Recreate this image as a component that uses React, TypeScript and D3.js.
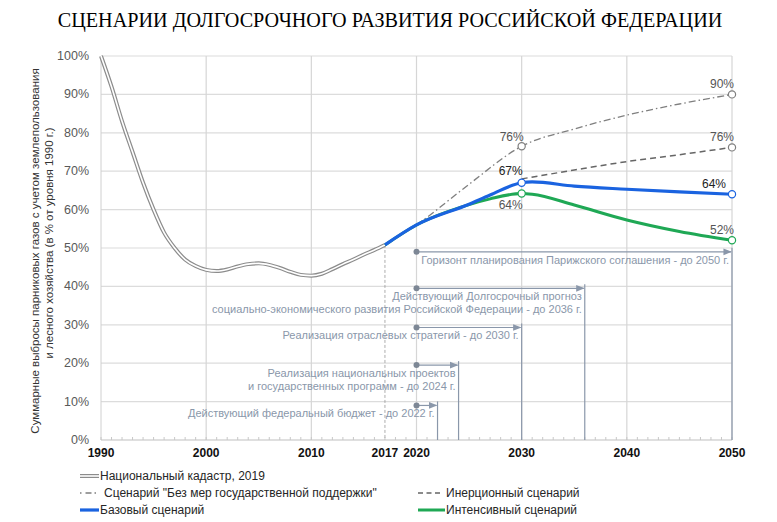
import React, { useLayoutEffect, useRef, useState } from "react";
import * as d3 from "d3";

// Национальный кадастр 1990-2017 (% от 1990)
const cadastreYears = [1990, 1991, 1992, 1993, 1994, 1995, 1996, 1997, 1998, 1999, 2000, 2001, 2002, 2003, 2004, 2005, 2006, 2007, 2008, 2009, 2010, 2011, 2012, 2013, 2014, 2015, 2016, 2017];
const cadastreValues = [100, 92, 83, 75, 67, 60, 54, 50, 47, 45.3, 44.3, 44, 44.4, 45.2, 45.8, 46, 45.6, 44.8, 43.8, 43, 42.8, 43.3, 44.5, 45.8, 47, 48.3, 49.5, 50.8];

const baseYears = [2017, 2020, 2025, 2027, 2030, 2031, 2035, 2040, 2045, 2050];
const baseValues = [50.8, 56, 61.4, 63.8, 67, 67.2, 66.1, 65.3, 64.6, 64];

const intensiveYears = [2017, 2020, 2025, 2027, 2030, 2031, 2035, 2040, 2045, 2050];
const intensiveValues = [50.8, 56, 61.3, 62.8, 64.2, 64, 61.2, 57.3, 54.3, 52];

const noSupportYears = [2020, 2021, 2025, 2030, 2035, 2040, 2045, 2050];
const noSupportValues = [56, 58, 66.6, 76.5, 81, 84.6, 87.5, 90];

const inertialYears = [2030, 2035, 2040, 2045, 2050];
const inertialValues = [68, 70.3, 72.5, 74.3, 76.2];

const xTicks = [1990, 2000, 2010, 2017, 2020, 2030, 2040, 2050];
const xGrid = [2000, 2010, 2020, 2030, 2040, 2050];
const yTicks = [0, 10, 20, 30, 40, 50, 60, 70, 80, 90, 100];

// горизонты планирования
const horizonLines = [
  ["Горизонт планирования  Парижского соглашения - до 2050 г."],
  ["Действующий Долгосрочный прогноз", "социально-экономического развития Российской Федерации  - до 2036 г."],
  ["Реализация отраслевых стратегий - до 2030 г."],
  ["Реализация национальных  проектов", "и государственных  программ  - до 2024 г."],
  ["Действующий федеральный бюджет - до 2022 г."],
];
const horizonLevels = [49, 39.5, 29.3, 19.5, 9];
const horizonEnd = [2050, 2036, 2030, 2024, 2022];
const horizonStart = 2020;

const TITLE = "СЦЕНАРИИ ДОЛГОСРОЧНОГО РАЗВИТИЯ РОССИЙСКОЙ ФЕДЕРАЦИИ";

const BLUE = "#1a63e0";
const GREEN = "#1fa855";
const GRAY = "#7f7f7f";
const ANN = "#8a97aa";
const FONT = "'Liberation Sans', Arial, sans-serif";

const x = d3.scaleLinear().domain([1990, 2050]).range([101, 732]);
const y = d3.scaleLinear().domain([0, 100]).range([440, 56]);

const line = d3
  .line<[number, number]>()
  .x(d => x(d[0]))
  .y(d => y(d[1]))
  .curve(d3.curveMonotoneX);

const zip = (a: number[], b: number[]) => a.map((v, i) => [v, b[i]] as [number, number]);

const App: React.FC = () => {
  const titleRef = useRef<SVGTextElement | null>(null);
  const [titleScale, setTitleScale] = useState(0.9);

  // заголовок в оригинале сжатый по ширине
  useLayoutEffect(() => {
    if (!titleRef.current) return;
    const w = titleRef.current.getComputedTextLength();
    if (w > 0) setTitleScale(664 / w);
  }, []);

  const cad = line(zip(cadastreYears, cadastreValues)) as string;
  const at = (ys: number[], vs: number[], yr: number) => vs[ys.indexOf(yr)];

  const markers = [
    { yr: 2030, v: at(noSupportYears, noSupportValues, 2030), c: GRAY },
    { yr: 2050, v: at(noSupportYears, noSupportValues, 2050), c: GRAY },
    { yr: 2050, v: at(inertialYears, inertialValues, 2050), c: GRAY },
    { yr: 2030, v: at(baseYears, baseValues, 2030), c: BLUE },
    { yr: 2050, v: at(baseYears, baseValues, 2050), c: BLUE },
    { yr: 2030, v: at(intensiveYears, intensiveValues, 2030), c: GREEN },
    { yr: 2050, v: at(intensiveYears, intensiveValues, 2050), c: GREEN },
  ];
  const labels = [
    { t: "76%", yr: 2030, v: 76.5, dx: -10, dy: -5, fill: "#555" },
    { t: "90%", yr: 2050, v: 90, dx: -10, dy: -6, fill: "#555" },
    { t: "76%", yr: 2050, v: 76.2, dx: -10, dy: -6, fill: "#555" },
    { t: "67%", yr: 2030, v: 67, dx: -11, dy: -8, fill: "#222" },
    { t: "64%", yr: 2050, v: 64, dx: -18, dy: -6, fill: "#222" },
    { t: "64%", yr: 2030, v: 64.2, dx: -11, dy: 16, fill: "#555" },
    { t: "52%", yr: 2050, v: 52, dx: -10, dy: -6, fill: "#555" },
  ];

  const minorYears = d3.range(1990, 2051);

  return (
    <svg width={777} height={522} style={{ position: "absolute", left: 0, top: 0, background: "#fff" }} fontFamily={FONT}>
      <defs>
        <marker id="arr" viewBox="0 0 10 10" refX="9" refY="5" markerWidth="7" markerHeight="7" orient="auto">
          <path d="M0,1 L10,5 L0,9 Z" fill={ANN} />
        </marker>
      </defs>

      <g transform={`translate(390,27) scale(${titleScale},1)`}>
        <text ref={titleRef} x={0} y={0} textAnchor="middle" fontFamily="'Liberation Serif', 'Times New Roman', serif" fontSize={22} fill="#000">
          {TITLE}
        </text>
      </g>

      {/* сетка */}
      {yTicks.filter(t => t > 0).map(t => (
        <line key={"h" + t} x1={x(1990)} x2={x(2050)} y1={y(t)} y2={y(t)} stroke="#dcdcdc" strokeWidth={1.2} />
      ))}
      {xGrid.map(t => (
        <line key={"v" + t} x1={x(t)} x2={x(t)} y1={y(100)} y2={y(0)} stroke="#d6d6d6" strokeWidth={1.2} />
      ))}
      <line x1={x(1990)} x2={x(1990)} y1={y(100)} y2={y(0)} stroke="#d0d0d0" />
      <line x1={x(1990)} x2={x(2050)} y1={y(0)} y2={y(0)} stroke="#bfbfbf" />
      {minorYears.map(t => (
        <line key={"m" + t} x1={x(t)} x2={x(t)} y1={y(0)} y2={y(0) - 3} stroke="#c8c8c8" />
      ))}

      {yTicks.map(t => (
        <text key={"yt" + t} x={89} y={y(t) + 4} textAnchor="end" fontSize={12.5} fill="#595959">{t}%</text>
      ))}
      {xTicks.map(t => (
        <text key={"xt" + t} x={x(t)} y={457} textAnchor="middle" fontSize={12} fontWeight="bold" fill="#111">{t}</text>
      ))}

      <text transform="translate(39,251) rotate(-90)" textAnchor="middle" fontSize={11.5} fill="#333">
        Суммарные выбросы парниковых газов с учетом землепользования
      </text>
      <text transform="translate(53,243) rotate(-90)" textAnchor="middle" fontSize={11.5} fill="#333">
        и лесного хозяйства (в % от уровня 1990 г.)
      </text>

      {/* 2017 */}
      <line x1={x(2017)} x2={x(2017)} y1={y(50.8)} y2={y(0)} stroke="#999" strokeDasharray="3,2" strokeWidth={0.8} />

      {/* горизонты */}
      {horizonLines.map((lines, i) => {
        const yy = y(horizonLevels[i]);
        const xe = x(horizonEnd[i]);
        return (
          <g key={"hz" + i}>
            <line x1={xe} x2={xe} y1={yy - 4} y2={y(0)} stroke={ANN} strokeWidth={1.2} />
            <line x1={x(horizonStart)} x2={xe - 1} y1={yy} y2={yy} stroke={ANN} strokeWidth={1.2} markerEnd="url(#arr)" />
            <circle cx={x(horizonStart)} cy={yy} r={3} fill="#7d8795" />
            {lines.map((l, j) => (
              <text key={j} x={xe - 3} y={yy + 12 + j * 13} textAnchor="end" fontSize={11} fill={ANN}>{l}</text>
            ))}
          </g>
        );
      })}

      {/* кадастр - двойная линия */}
      <path d={cad} fill="none" stroke="#8c8c8c" strokeWidth={4} />
      <path d={cad} fill="none" stroke="#fff" strokeWidth={1.6} />

      <path d={line(zip(noSupportYears, noSupportValues)) as string} fill="none" stroke={GRAY} strokeWidth={1.3} strokeDasharray="7,3,1.5,3" />
      <path d={line(zip(inertialYears, inertialValues)) as string} fill="none" stroke="#666" strokeWidth={1.5} strokeDasharray="6,4" />
      <path d={line(zip(intensiveYears, intensiveValues)) as string} fill="none" stroke={GREEN} strokeWidth={3} />
      <path d={line(zip(baseYears, baseValues)) as string} fill="none" stroke={BLUE} strokeWidth={3.2} />

      {markers.map((m, i) => (
        <circle key={"mk" + i} cx={x(m.yr)} cy={y(m.v)} r={3.6} fill="#fff" stroke={m.c} strokeWidth={1.2} />
      ))}
      {labels.map((l, i) => (
        <text key={"lb" + i} x={x(l.yr) + l.dx} y={y(l.v) + l.dy} textAnchor="middle" fontSize={12} fill={l.fill}>{l.t}</text>
      ))}

      {/* легенда */}
      <g fontSize={12} fill="#262626">
        <line x1={80} x2={99} y1={476} y2={476} stroke="#8c8c8c" strokeWidth={4} />
        <line x1={80} x2={99} y1={476} y2={476} stroke="#fff" strokeWidth={1.6} />
        <text x={100} y={480}>Национальный кадастр, 2019</text>

        <line x1={80} x2={100} y1={493} y2={493} stroke={GRAY} strokeWidth={1.3} strokeDasharray="1.5,4,6,3" />
        <text x={104} y={497}>Сценарий "Без мер государственной  поддержки"</text>
        <line x1={418} x2={443} y1={493} y2={493} stroke="#666" strokeWidth={1.5} strokeDasharray="5,3.5" />
        <text x={446} y={497}>Инерционный сценарий</text>

        <line x1={80} x2={99} y1={510} y2={510} stroke={BLUE} strokeWidth={3.2} />
        <text x={100} y={514}>Базовый сценарий</text>
        <line x1={418} x2={445} y1={510} y2={510} stroke={GREEN} strokeWidth={3} />
        <text x={446} y={514}>Интенсивный сценарий</text>
      </g>
    </svg>
  );
};

export default App;
